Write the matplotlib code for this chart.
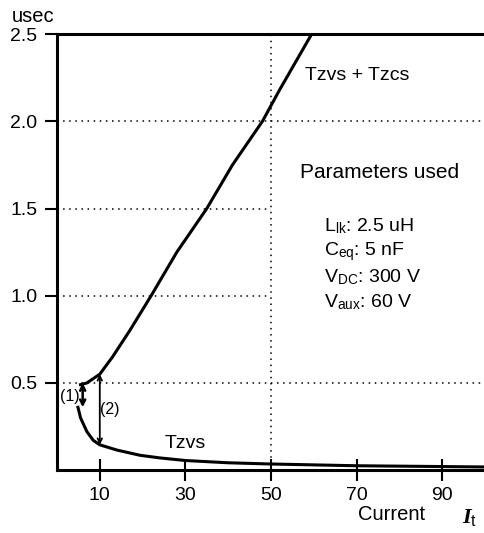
# switching interval vs. current, Tzvs and Tzvs + Tzcs curves
import numpy as np
import matplotlib.pyplot as plt

plt.rcParams['font.family'] = ['Liberation Sans', 'DejaVu Sans']
plt.rcParams['mathtext.fontset'] = 'custom'
plt.rcParams['mathtext.rm'] = 'Liberation Sans'
plt.rcParams['mathtext.it'] = 'Liberation Serif:italic:bold'

# Tzvs + Tzcs curve (usec) vs current
sum_x = [5.5, 7, 10, 13, 17, 22, 28, 35, 41, 48, 52, 59.5]
sum_y = [0.49, 0.50, 0.55, 0.65, 0.80, 1.0, 1.25, 1.5, 1.75, 2.0, 2.18, 2.5]

# Tzvs curve
zvs_x = [4.9, 5.5, 7, 8.5, 10, 14, 19.4, 24, 30, 40, 50, 70, 100]
zvs_y = [0.36, 0.30, 0.22, 0.17, 0.145, 0.115, 0.085, 0.07, 0.055, 0.042, 0.035, 0.025, 0.018]

xticks = [10, 30, 50, 70, 90]
yticks = [0.5, 1.0, 1.5, 2.0, 2.5]
params = [r'L$_{\mathrm{lk}}$: 2.5 uH', r'C$_{\mathrm{eq}}$: 5 nF',
          r'V$_{\mathrm{DC}}$: 300 V', r'V$_{\mathrm{aux}}$: 60 V']

fig = plt.figure(figsize=(4.85, 5.33), dpi=100)
ax = fig.add_axes([0.1175, 0.118, 0.8825, 0.818])

ax.plot(sum_x, sum_y, color='black', lw=2.2)
ax.plot(zvs_x, zvs_y, color='black', lw=2.2)

# dotted grid (1.0 and 1.5 stop at the 50 line, next to the parameter box)
for yv in [0.5, 2.0]:
    ax.axhline(yv, color='black', lw=1.1, ls=(0, (1, 3)), zorder=0)
for yv in [1.0, 1.5]:
    ax.axhline(yv, xmax=0.5, color='black', lw=1.1, ls=(0, (1, 3)), zorder=0)
ax.axvline(50, color='black', lw=1.1, ls=(0, (1, 3)), zorder=0)

# arrows (1) and (2)
ax.annotate('', xy=(6, 0.36), xytext=(6, 0.5),
            arrowprops=dict(arrowstyle='<->', lw=1.8, color='black',
                            shrinkA=0, shrinkB=0, mutation_scale=9))
ax.annotate('', xy=(10, 0.145), xytext=(10, 0.55),
            arrowprops=dict(arrowstyle='<->', lw=1.3, color='black',
                            shrinkA=0, shrinkB=0, mutation_scale=8))
ax.text(3.0, 0.42, '(1)', fontsize=11.5, ha='center', va='center')
ax.text(12.4, 0.345, '(2)', fontsize=11.5, ha='center', va='center')

ax.text(57.9, 2.26, 'Tzvs + Tzcs', fontsize=14, va='center')
ax.text(25.2, 0.15, 'Tzvs', fontsize=14, va='center')
ax.text(75.4, 1.705, 'Parameters used', fontsize=15, ha='center', va='center')
for i, p in enumerate(params):
    ax.text(62.5, 1.40 - 0.146 * i, p, fontsize=14, va='center')

ax.set_xlim(0, 100)
ax.set_ylim(0, 2.5)
ax.set_xticks(xticks)
ax.set_yticks(yticks)
ax.tick_params(axis='x', direction='inout', length=16, width=1.5, labelsize=14, pad=4)
ax.tick_params(axis='y', direction='out', length=9, width=1.5, labelsize=14, pad=5)
for s in ['left', 'bottom', 'top']:
    ax.spines[s].set_linewidth(2.2)
ax.spines['right'].set_visible(False)

fig.text(12 / 485, 1 - 17 / 533, 'usec', fontsize=14.5, va='center')
fig.text(358 / 485, 1 - 515 / 533, 'Current', fontsize=14.5, va='center')
fig.text(462 / 485, 1 - 517 / 533, r'$I_{\mathrm{t}}$', fontsize=16, va='center')

fig.savefig('out.png', dpi=100)
